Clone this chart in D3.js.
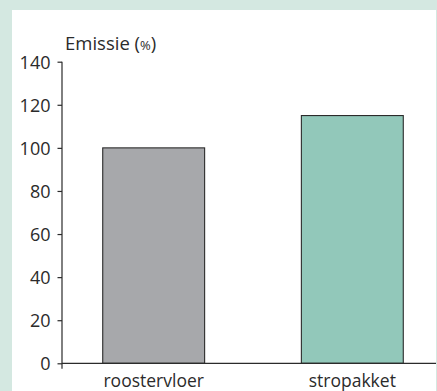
<!DOCTYPE html>
<html>
<head>
<meta charset="utf-8">
<script src="https://cdn.jsdelivr.net/npm/d3@7"></script>
<style>
  html, body { margin: 0; padding: 0; background: #d4e8e1; }
  svg { display: block; }
  text { font-family: "Open Sans", Lato, sans-serif; fill: #2b2b2b; }
</style>
</head>
<body>
<script>
// Relative emission per floor type (roostervloer = 100%)
const categories = ["roostervloer", "stropakket"];
const emission = [100, 115];
const yTicks = [0, 20, 40, 60, 80, 100, 120, 140];
const barColors = ["#a7a8ab", "#92c8ba"];

const W = 437, H = 391;
const svg = d3.select("body").append("svg").attr("width", W).attr("height", H);

// light panel background with white plotting card
svg.append("rect").attr("width", W).attr("height", H).attr("fill", "#d4e8e1");
svg.append("rect").attr("x", 12).attr("y", 10).attr("width", 424).attr("height", H - 10).attr("fill", "#ffffff");

const x0 = 62, y0 = 363.3, yTop = 61.7;
const y = d3.scaleLinear().domain([0, 140]).range([y0, yTop]);
const x = d3.scaleBand().domain(categories).range([x0, 444]).paddingInner(0.487).paddingOuter(0.205);

// bars
svg.selectAll("rect.bar").data(categories).enter().append("rect")
  .attr("class", "bar")
  .attr("x", d => x(d))
  .attr("y", (d, i) => y(emission[i]))
  .attr("width", x.bandwidth())
  .attr("height", (d, i) => y(0) - y(emission[i]))
  .attr("fill", (d, i) => barColors[i])
  .attr("stroke", "#2b2b2b")
  .attr("stroke-width", 1.1);

// y axis
const yAxis = d3.axisLeft(y).tickValues(yTicks).tickSize(4.5).tickPadding(7).tickSizeOuter(0);
const gy = svg.append("g").attr("transform", `translate(${x0},0)`).call(yAxis);
gy.select(".domain").remove();
gy.append("line").attr("x1", 0).attr("x2", 0).attr("y1", yTop).attr("y2", y0 + 5.5)
  .attr("stroke", "#2b2b2b").attr("stroke-width", 1.2);
gy.selectAll(".tick line").attr("stroke", "#2b2b2b").attr("stroke-width", 1.2);
gy.selectAll(".tick text").style("font-size", "18px").attr("fill", "#2b2b2b")
  .style("font-family", "'Open Sans', Lato, sans-serif").attr("dy", "0.36em");

// x axis baseline
svg.append("line").attr("x1", x0).attr("x2", 436).attr("y1", y0).attr("y2", y0)
  .attr("stroke", "#2b2b2b").attr("stroke-width", 1.2);

// category labels
svg.selectAll("text.cat").data(categories).enter().append("text")
  .attr("class", "cat")
  .attr("x", d => x(d) + x.bandwidth() / 2)
  .attr("y", 387)
  .attr("text-anchor", "middle")
  .style("font-size", "17.5px")
  .text(d => d);

// axis title
const title = svg.append("text").attr("x", 65).attr("y", 50).style("font-size", "18.5px");
title.append("tspan").text("Emissie (");
title.append("tspan").style("font-size", "13px").text("%");
title.append("tspan").text(")");
</script>
</body>
</html>
